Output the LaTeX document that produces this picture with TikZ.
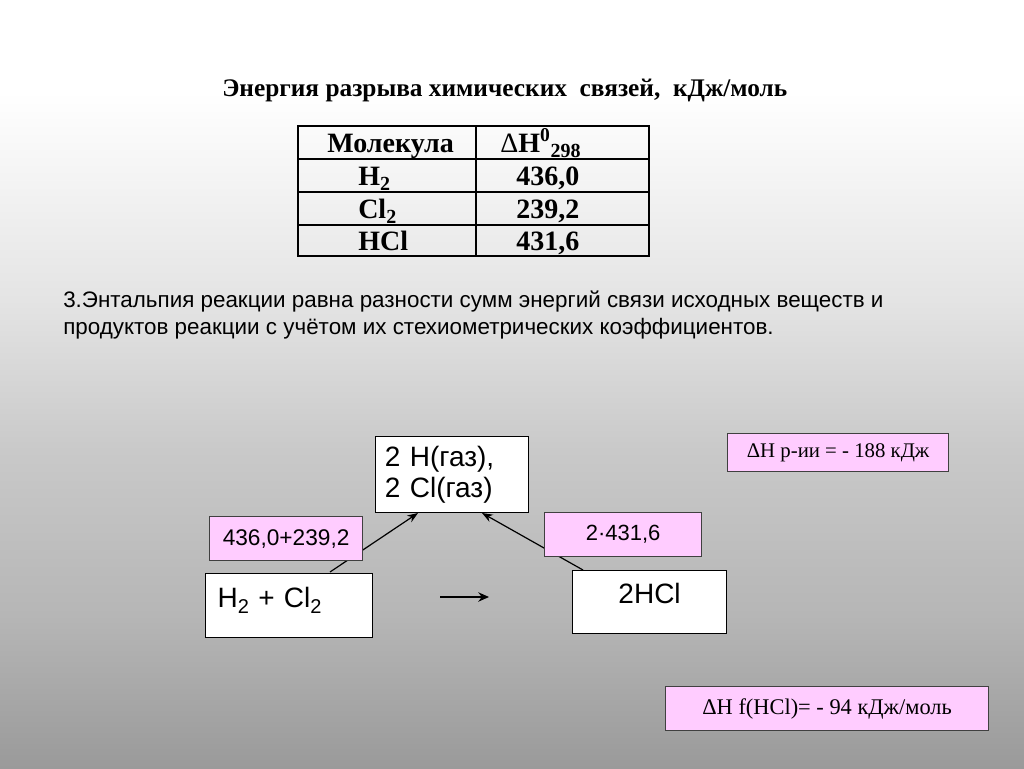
\documentclass[tikz,border=0pt]{standalone}
\usepackage{fontspec}
\setmainfont{Liberation Serif}
\setsansfont{Liberation Sans}
\usetikzlibrary{arrows.meta}
\definecolor{pinkbox}{HTML}{FFCCFF}
\definecolor{bgbot}{HTML}{9A9A9A}
\definecolor{bglow}{HTML}{B6B6B6}
\definecolor{bgmid}{HTML}{C9C9C9}
\definecolor{bgup}{HTML}{E4E4E4}
\pgfdeclareverticalshading{slidebg}{100bp}{color(0bp)=(bgbot); color(25bp)=(bgbot); color(35bp)=(bglow); color(45.7bp)=(bgmid); color(55.5bp)=(bgup); color(69bp)=(white); color(100bp)=(white)}
\newcommand{\sbs}[1]{\raisebox{-0.45ex}{\fontsize{15}{17}\selectfont #1}}
\newcommand{\sbsans}[1]{\raisebox{-0.4ex}{\fontsize{15}{17}\selectfont #1}}
\begin{document}
\begin{tikzpicture}[x=0.75pt,y=-0.75pt,
  tabline/.style={line width=1.6pt},
  tabtxt/.style={font=\bfseries\fontsize{21}{25}\selectfont, inner sep=0pt, anchor=base west},
  wbox/.style={draw=black, line width=0.9pt, fill=white, anchor=north west, inner sep=0pt,
     font=\sffamily\fontsize{21}{23.5}\selectfont},
  pbox/.style={draw=black!75, line width=0.9pt, fill=pinkbox, anchor=north west, inner sep=0pt},
  conn/.style={line width=0.9pt, -{Stealth[length=8pt,width=6pt]}}]
\useasboundingbox (0,0) rectangle (1024,768);
\shade[shading=slidebg] (0,0) rectangle (1024,768);

% title
\node[font=\bfseries\fontsize{19}{23}\selectfont, anchor=base west, inner sep=0pt] (title) at (222,96)
  {Энергия разрыва химических \ связей, \ кДж/моль};

% table
\draw[tabline] (298,126) rectangle (649,256);
\draw[tabline] (298,159) -- (649,159) (298,192) -- (649,192) (298,225) -- (649,225) (476,126) -- (476,256);
\node[tabtxt] (t11) at (327,152) {Молекула};
\node[tabtxt] (t12) at (500,152) {{\mdseries Δ}H\textsuperscript{0}\sbs{298}};
\node[tabtxt] (t21) at (358,185) {H\sbs{2}};
\node[tabtxt] (t22) at (516,185) {436,0};
\node[tabtxt] (t31) at (358,218) {Cl\sbs{2}};
\node[tabtxt] (t32) at (516,218) {239,2};
\node[tabtxt] (t41) at (358,250) {HCl};
\node[tabtxt] (t42) at (516,250) {431,6};

% paragraph
\node[font=\sffamily\fontsize{16.8}{21}\selectfont, anchor=base west, inner sep=0pt] (p1) at (63,307)
  {3.Энтальпия реакции равна разности сумм энергий связи исходных веществ и};
\node[font=\sffamily\fontsize{16.8}{21}\selectfont, anchor=base west, inner sep=0pt] (p2) at (63,334)
  {продуктов реакции с учётом их стехиометрических коэффициентов.};

% connectors (behind labels)
\coordinate (l0) at (330,572);
\coordinate (l1) at (418,513);
\coordinate (r0) at (583,570);
\coordinate (r1) at (482,513);
\draw[conn] (l0) -- (l1);
\draw[conn] (r0) -- (r1);

% boxes
\node[wbox, minimum width=153*0.75pt, minimum height=76*0.75pt, text width=153*0.75pt-14pt, align=left, inner xsep=7pt] (atoms) at (375,436)
  {2 H(газ),\\2 Cl(газ)};
\node[wbox, minimum width=167*0.75pt, text width=167*0.75pt-18pt, align=left, inner xsep=9pt,
      text height=34*0.75pt, text depth=30*0.75pt] (react) at (205,573)
  {H\sbsans{2} + Cl\sbsans{2}};
\node[wbox, minimum width=154*0.75pt, text width=154*0.75pt, align=center,
      text height=33*0.75pt, text depth=30*0.75pt] (prod) at (572,570)
  {2HCl};
\node[pbox, minimum width=153*0.75pt, minimum height=44*0.75pt, font=\sffamily\fontsize{17}{19}\selectfont] (e1) at (209,516) {436,0+239,2};
\node[pbox, minimum width=157*0.75pt, minimum height=44*0.75pt, font=\sffamily\fontsize{16.5}{18}\selectfont] (e2) at (544,512) {2·431,6\\[4pt]};
\node[pbox, minimum width=221*0.75pt, minimum height=38*0.75pt, font=\fontsize{15.6}{18}\selectfont] (dh1) at (727,433) {ΔH р-ии = - 188 кДж};
\node[pbox, minimum width=323*0.75pt, minimum height=44*0.75pt, font=\fontsize{16.8}{18}\selectfont] (dh2) at (665,686) {ΔH f(HCl)= - 94 кДж/моль};

% reaction arrow
\coordinate (a0) at (440,597);
\coordinate (a1) at (489,597);
\draw[line width=2.2pt, -{Stealth[length=8pt,width=7pt]}] (a0) -- (a1);
\end{tikzpicture}
\end{document}
